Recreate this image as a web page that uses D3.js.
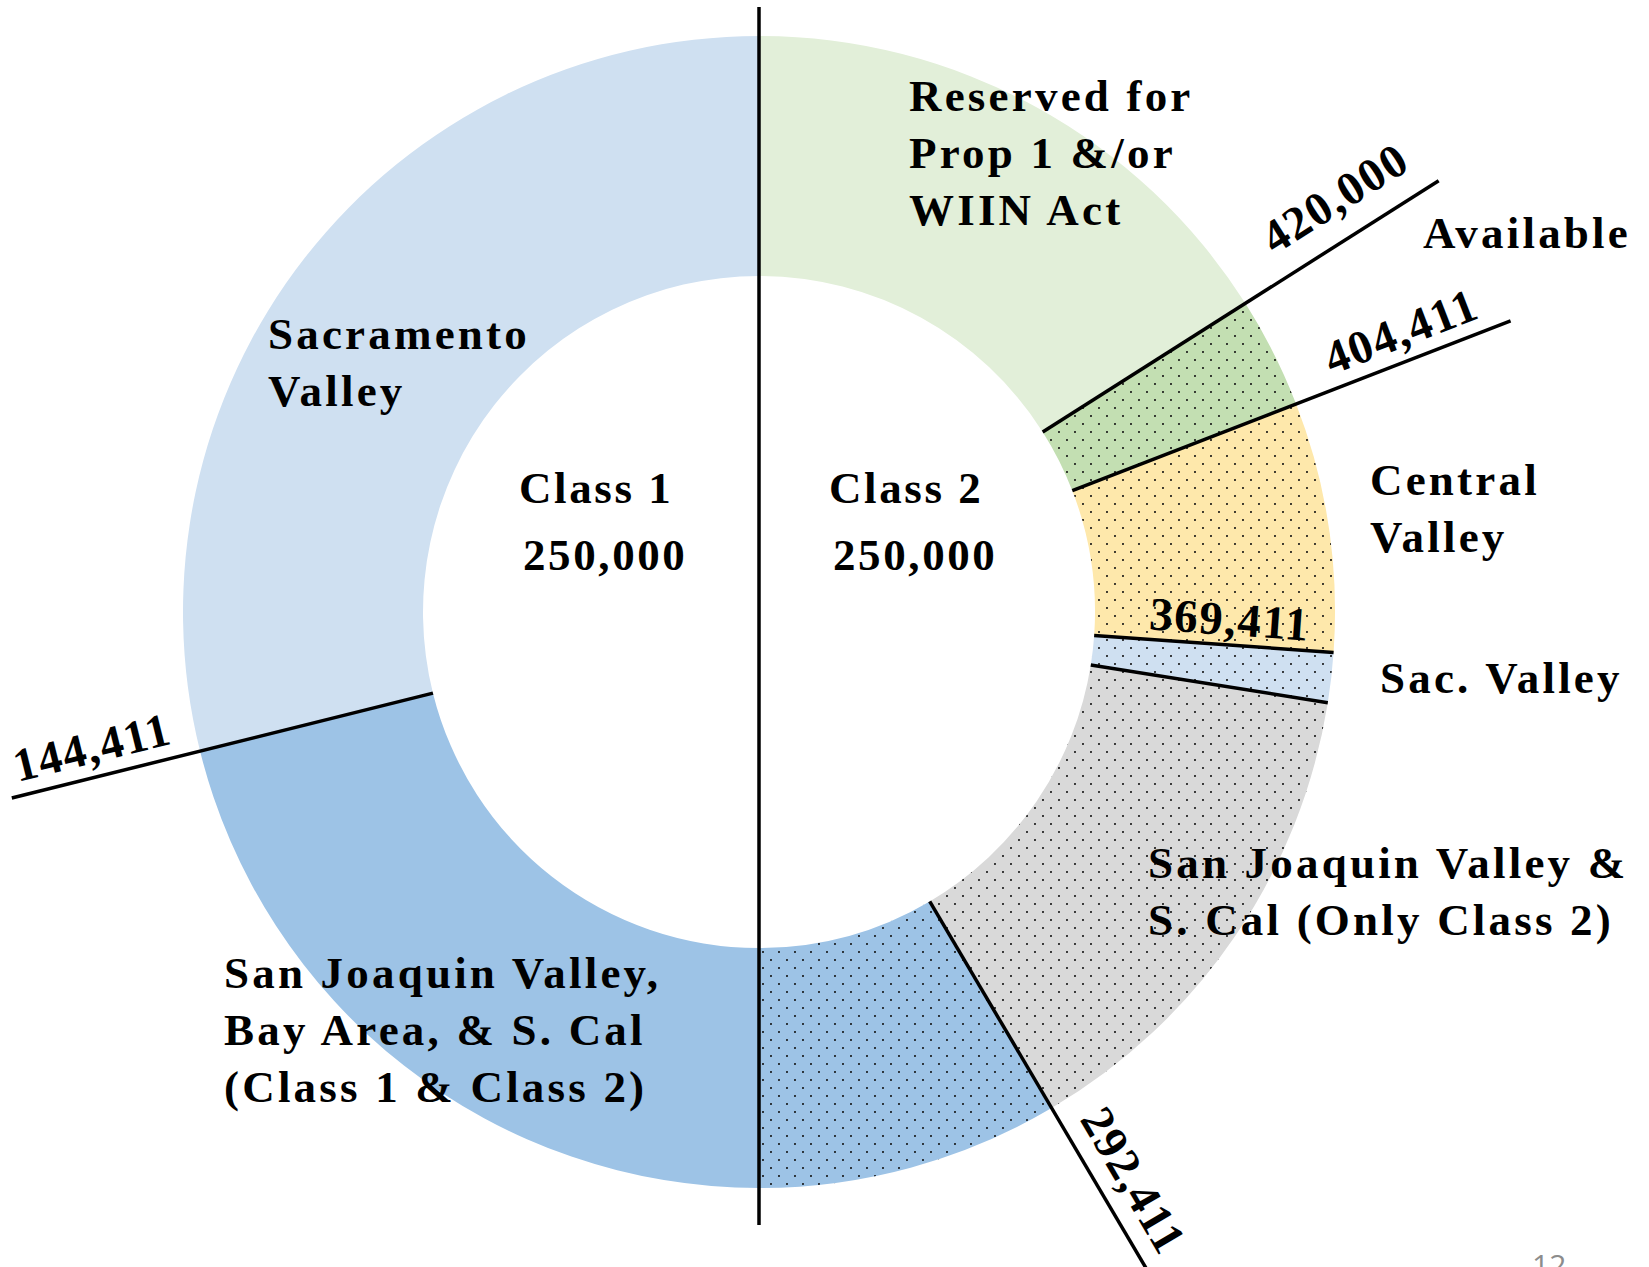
<!DOCTYPE html>
<html lang="en">
<head>
<meta charset="UTF-8">
<title>Class 1 / Class 2 donut</title>
<script src="https://cdn.jsdelivr.net/npm/d3@7"></script>
<style>
  html, body { margin: 0; padding: 0; background: #fff; }
  svg { display: block; }
  .lbl { font-family: "Liberation Serif", "DejaVu Serif", serif; font-weight: bold; fill: #000; }
</style>
</head>
<body>
<div id="chart"></div>
<script>
// ---- data ----
const segNames  = ["Sacramento Valley", "SJV Class 1 part", "SJV Class 2 part", "SJV only Class 2", "Sac. Valley", "Central Valley", "Available", "Reserved"];
const segStart  = [0, 144411, 250000, 292411, 362411, 369411, 404411, 420000];
const segEnd    = [144411, 250000, 292411, 362411, 369411, 404411, 420000, 500000];
const total = 500000;

const boundaryValues = [0, 144411, 250000, 292411, 362411, 369411, 404411, 420000];
const boundaryLabels = ["", "144,411", "", "292,411", "", "369,411", "404,411", "420,000"];

const classNames  = ["Class 1", "Class 2"];
const classTotals = [250000, 250000];

// ---- styles / layout ----
const fills = {
  "Sacramento Valley": "#cfe0f1",
  "SJV Class 1 part":  "#9dc3e6",
  "SJV Class 2 part":  "#9dc3e6",
  "SJV only Class 2":  "#d9d9d9",
  "Sac. Valley":       "#cfe0f1",
  "Central Valley":    "#fee8ab",
  "Available":         "#c3dfb2",
  "Reserved":          "#e2efd9"
};
const dotted = new Set(["SJV Class 2 part", "SJV only Class 2", "Sac. Valley", "Central Valley", "Available"]);

const W = 1649, H = 1267;
const cx = 759, cy = 612, rIn = 336, rOut = 576;

// how far each boundary line reaches (inner, outer) and where its number sits
const lineReach = {0: [0, 605], 144411: [rIn, 770], 250000: [0, 613], 292411: [rIn, 840],
                   362411: [rIn, rOut], 369411: [rIn, rOut], 404411: [rIn, 806], 420000: [rIn, 805]};
const numPos = {144411: [680, 14], 292411: [680, 18], 369411: [470, 10], 404411: [700, 14], 420000: [708, 25]};

const svg = d3.select("#chart").append("svg").attr("width", W).attr("height", H);
svg.append("rect").attr("width", W).attr("height", H).attr("fill", "#fff");

const defs = svg.append("defs");
const pat = defs.append("pattern").attr("id", "dots")
  .attr("patternUnits", "userSpaceOnUse").attr("width", 16).attr("height", 16);
pat.append("circle").attr("cx", 4).attr("cy", 4).attr("r", 1.05).attr("fill", "#111");
pat.append("circle").attr("cx", 12).attr("cy", 12).attr("r", 1.05).attr("fill", "#111");

// counter-clockwise from 12 o'clock
const ang = d3.scaleLinear().domain([0, total]).range([0, -2 * Math.PI]);
const arc = d3.arc().innerRadius(rIn).outerRadius(rOut);
const pt = (v, r) => [cx + r * Math.sin(ang(v)), cy - r * Math.cos(ang(v))];

const segs = segNames.map((n, i) => ({name: n, s: segStart[i], e: segEnd[i]}));
const g = svg.append("g").attr("transform", `translate(${cx},${cy})`);

g.selectAll("path.seg").data(segs).join("path")
  .attr("class", "seg")
  .attr("d", d => arc({startAngle: ang(d.s), endAngle: ang(d.e)}))
  .attr("fill", d => fills[d.name]);

g.selectAll("path.dots").data(segs.filter(d => dotted.has(d.name))).join("path")
  .attr("class", "dots")
  .attr("d", d => arc({startAngle: ang(d.s), endAngle: ang(d.e)}))
  .attr("fill", "url(#dots)");

// boundary lines
svg.selectAll("line.bnd").data(boundaryValues).join("line")
  .attr("class", "bnd")
  .attr("x1", v => pt(v, lineReach[v][0])[0]).attr("y1", v => pt(v, lineReach[v][0])[1])
  .attr("x2", v => pt(v, lineReach[v][1])[0]).attr("y2", v => pt(v, lineReach[v][1])[1])
  .attr("stroke", "#000").attr("stroke-width", 3.5);

// boundary numbers along their lines
boundaryValues.forEach((v, i) => {
  if (!boundaryLabels[i]) return;
  const [dist, off] = numPos[v];
  const p = pt(v, dist);
  let a = Math.atan2(p[1] - cy, p[0] - cx) * 180 / Math.PI;
  if (a > 90) a -= 180;
  if (a < -90) a += 180;
  svg.append("text").attr("class", "lbl")
    .attr("transform", `translate(${p[0]},${p[1]}) rotate(${a})`)
    .attr("text-anchor", "middle").attr("dy", -off)
    .style("font-size", "47px").style("letter-spacing", "1.5px")
    .text(boundaryLabels[i]);
});

// segment labels (offsets from the centre)
const segLabels = [
  {lines: ["Reserved for", "Prop 1 &/or", "WIIN Act"], dx: 150, y: 111},
  {lines: ["Available"], dx: 664, y: 248},
  {lines: ["Sacramento", "Valley"], dx: -491, y: 349},
  {lines: ["Central", "Valley"], dx: 611, y: 495},
  {lines: ["Sac. Valley"], dx: 621, y: 693},
  {lines: ["San Joaquin Valley &", "S. Cal (Only Class 2)"], dx: 389, y: 878},
  {lines: ["San Joaquin Valley,", "Bay Area, & S. Cal", "(Class 1 & Class 2)"], dx: -535, y: 988}
];
segLabels.forEach(l => {
  const t = svg.append("text").attr("class", "lbl")
    .style("font-size", "45px").style("letter-spacing", "3.2px");
  l.lines.forEach((s, k) => t.append("tspan").attr("x", cx + l.dx).attr("y", l.y + k * 57).text(s));
});

// class totals in the hole
const classDx = [-240, 70];
classNames.forEach((n, i) => {
  const t = svg.append("text").attr("class", "lbl")
    .style("font-size", "45px").style("letter-spacing", "2.6px");
  t.append("tspan").attr("x", cx + classDx[i]).attr("y", 503).text(n);
  t.append("tspan").attr("x", cx + classDx[i] + 4).attr("y", 570).text(d3.format(",")(classTotals[i]));
});

// slide number, cut off at the bottom like the source slide
svg.append("text").attr("x", 1532).attr("y", 1276)
  .style("font-family", "'Open Sans', 'Liberation Sans', sans-serif")
  .style("font-size", "30px").attr("fill", "#8c8c8c").text("12");
</script>
</body>
</html>
